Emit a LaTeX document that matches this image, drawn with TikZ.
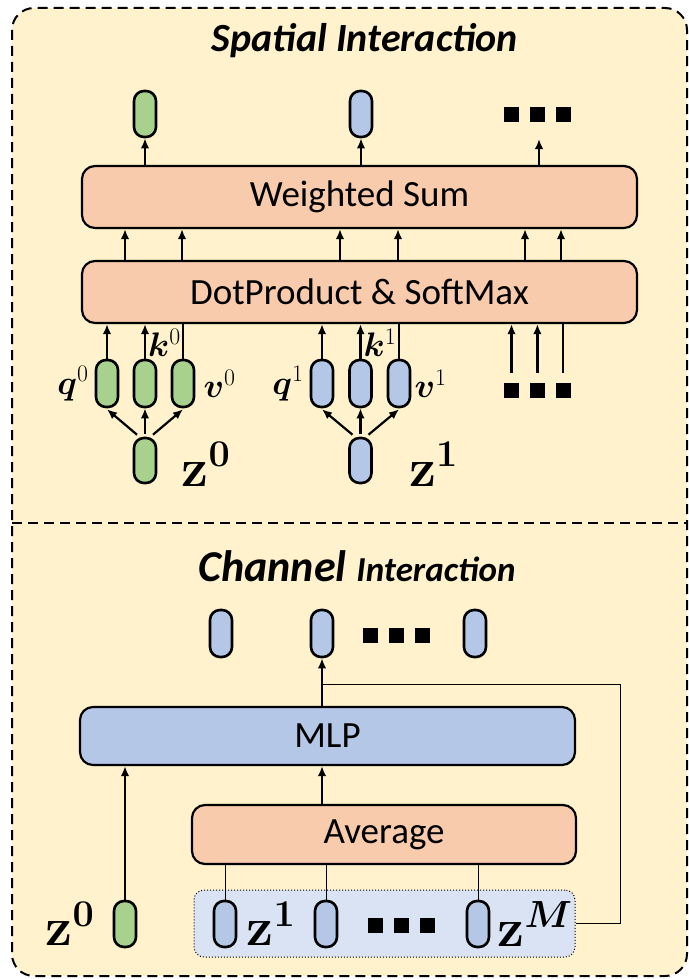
\RequirePackage{fix-cm}
\documentclass[tikz,border=0pt]{standalone}
\usepackage{amsmath}
\usepackage{bm}
\usepackage[no-math]{fontspec}
\setmainfont{Carlito}
\usetikzlibrary{arrows.meta,positioning}

\definecolor{bgyellow}{HTML}{FFF2CC}
\definecolor{peach}{HTML}{F8CBAD}
\definecolor{pgreen}{HTML}{A9D18E}
\definecolor{pblue}{HTML}{B4C7E7}
\definecolor{zblue}{HTML}{DAE3F3}

\begin{document}
\begin{tikzpicture}[
  x=1pt, y=-1pt,
  box/.style={rectangle, draw, line width=2.2pt, rounded corners=13pt, minimum width=555pt, minimum height=62pt, font=\fontsize{37}{40}\selectfont},
  pill/.style={rectangle, draw, line width=2.6pt, rounded corners=10pt, minimum width=22pt, minimum height=46pt, inner sep=0pt},
  sq/.style={rectangle, fill=black, minimum size=15pt, inner sep=0pt},
  arr/.style={-{Latex[length=10pt,width=8.5pt]}, line width=2.2pt},
  lnk/.style={line width=2.2pt},
  thinln/.style={line width=1pt},
  lbl/.style={font=\fontsize{34}{36}\selectfont, inner sep=0pt},
  zlbl/.style={font=\fontsize{54}{56}\selectfont, inner sep=0pt}
]
\useasboundingbox (0,0) rectangle (688,979);

% frame
\draw[fill=bgyellow, dash pattern=on 10pt off 6pt, line width=2pt, rounded corners=22pt] (12,8) rectangle (687,976);
\draw[dash pattern=on 10pt off 6pt, line width=2pt] (12,523) -- (687,523);

% spatial part
\node[font=\fontsize{40}{44}\selectfont\bfseries\itshape] (title1) at (365,41) {Spatial Interaction};

\node[pill, fill=pgreen] (s0) at (145,114) {};
\node[pill, fill=pblue] (s1) at (361,114) {};
\node[sq] (ta) at (511.5,115) {};
\node[sq, right=10.5pt of ta] (tb) {};
\node[sq, right=10.5pt of tb] (tc) {};

\node[box, fill=peach] (ws) at (359.5,197) {Weighted Sum};
\node[box, fill=peach] (dp) at (359.5,292) {DotProduct \& SoftMax};

\node[pill, fill=pgreen, minimum height=47pt] (q0) at (107,383.5) {};
\node[pill, fill=pgreen, minimum height=47pt] (k0) at (145,383.5) {};
\node[pill, fill=pgreen, minimum height=47pt] (v0) at (183,383.5) {};
\node[pill, fill=pblue, minimum height=47pt] (q1) at (322,383.5) {};
\node[pill, fill=pblue, minimum height=47pt] (k1) at (360.5,383.5) {};
\node[pill, fill=pblue, minimum height=47pt] (v1) at (399,383.5) {};
\node[sq] (ba) at (511.5,390.5) {};
\node[sq, right=10.5pt of ba] (bb) {};
\node[sq, right=10.5pt of bb] (bc) {};

\node[pill, fill=pgreen, minimum height=45pt] (z0) at (145,460.5) {};
\node[pill, fill=pblue, minimum height=45pt] (z1) at (360.5,460.5) {};

\node[lbl, left=6pt of q0] (q0l) {$\bm{q}^{0}$};
\node[lbl, above right=2pt and 3pt of k0.north] (k0l) {$\bm{k}^{0}$};
\node[lbl, right=8pt of v0] (v0l) {$\bm{v}^{0}$};
\node[lbl, left=6pt of q1] (q1l) {$\bm{q}^{1}$};
\node[lbl, above right=2pt and 3pt of k1.north] (k1l) {$\bm{k}^{1}$};
\node[lbl, right=3pt of v1] (v1l) {$\bm{v}^{1}$};
\node[zlbl, right=24pt of z0, yshift=-4pt] (z0l) {$\mathbf{z}^{\mathbf{0}}$};
\node[zlbl, right=36pt of z1, yshift=-4pt] (z1l) {$\mathbf{z}^{\mathbf{1}}$};

\coordinate (ttip) at (539,139);
\draw[arr] (ws.north -| s0) -- (s0.south);
\draw[arr] (ws.north -| s1) -- (s1.south);
\draw[arr] (ws.north -| ttip) -- (ttip);

\foreach \dx in {-234.5,-177.5,-19.5,38.5,165.5,201.5}
  \draw[arr] ([xshift=\dx pt]dp.north) -- ([xshift=\dx pt]ws.south);

\draw[arr] (q0.north) -- (q0 |- dp.south);
\draw[arr] (k0.north) -- (k0 |- dp.south);
\draw[lnk] (v0.north) -- (v0 |- dp.south);
\draw[arr] (q1.north) -- (q1 |- dp.south);
\draw[arr] (k1.north) -- (k1 |- dp.south);
\draw[lnk] (v1.north) -- (v1 |- dp.south);
\draw[arr] ([yshift=10pt]ba.north) -- (ba |- dp.south);
\draw[arr] ([yshift=10pt]bb.north) -- (bb |- dp.south);
\draw[lnk] ([yshift=10pt]bc.north) -- (bc |- dp.south);

\draw[arr] ([xshift=-8pt,yshift=2pt]z0.north) -- ([yshift=-1pt]q0.south);
\draw[arr] ([yshift=3pt]z0.north) -- (k0.south);
\draw[arr] ([xshift=8pt,yshift=2pt]z0.north) -- ([yshift=-1pt]v0.south);
\draw[arr] ([xshift=-8pt,yshift=2pt]z1.north) -- ([yshift=-1pt]q1.south);
\draw[arr] ([yshift=3pt]z1.north) -- (k1.south);
\draw[arr] ([xshift=8pt,yshift=2pt]z1.north) -- ([yshift=-1pt]v1.south);

% channel part
\node[inner sep=0pt] (title2) at (357,566) {\bfseries\itshape{\fontsize{44}{48}\selectfont Channel }{\fontsize{35}{40}\selectfont Interaction}};

\node[pill, fill=pblue, minimum height=47pt] (c1) at (221,633.5) {};
\node[pill, fill=pblue, minimum height=47pt] (c2) at (322,633.5) {};
\node[pill, fill=pblue, minimum height=47pt] (c3) at (475,633.5) {};
\node[sq] (ca) at (370.5,635) {};
\node[sq, right=10.5pt of ca] (cb) {};
\node[sq, right=10.5pt of cb] (cc) {};

\node[box, fill=pblue, minimum width=495pt, minimum height=58pt] (mlp) at (327.5,736) {MLP};
\node[box, fill=peach, minimum width=384pt, minimum height=59pt] (avg) at (384,834.5) {Average};

\node[draw, dotted, line width=1pt, fill=zblue, rounded corners=10pt, minimum width=381pt, minimum height=67pt] (zbox) at (384.5,923.5) {};
\node[pill, fill=pgreen] (g0) at (125,924) {};
\node[pill, fill=pblue] (m1) at (225,924) {};
\node[pill, fill=pblue] (m2) at (326,924) {};
\node[pill, fill=pblue] (mM) at (478,924) {};
\node[sq] (ma) at (375.5,925.5) {};
\node[sq, right=10.5pt of ma] (mb) {};
\node[sq, right=10.5pt of mb] (mc) {};

\node[zlbl, left=18pt of g0] (g0l) {$\mathbf{z}^{\mathbf{0}}$};
\node[zlbl, right=9pt of m1] (m1l) {$\mathbf{z}^{\mathbf{1}}$};
\node[zlbl, right=7pt of mM] (mMl) {$\mathbf{z}^{\bm{M}}$};

\draw[arr] (g0.north) -- (g0 |- mlp.south);
\draw[arr] (avg.north -| c2) -- (mlp.south -| c2);
\draw[arr] (mlp.north -| c2) -- (c2.south);
\draw[thinln] (m1.north) -- (m1 |- avg.south);
\draw[thinln] (m2.north) -- (m2 |- avg.south);
\draw[thinln] (mM.north) -- (mM |- avg.south);

\coordinate (fbjoin) at (322,684);
\draw[thinln] (zbox.east) -- ++(45,0) |- (fbjoin);
\end{tikzpicture}
\end{document}
